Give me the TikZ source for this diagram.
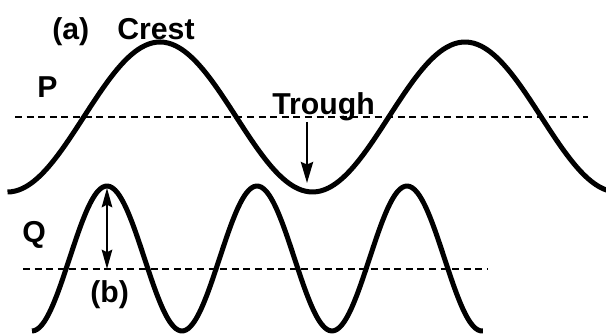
\documentclass[tikz,border=0pt]{standalone}
\usepackage{fontspec}
\setmainfont{Liberation Sans}
\usepackage{tikz}
\usetikzlibrary{arrows.meta,positioning}

\begin{document}
\begin{tikzpicture}[
    wave/.style={line width=2.85pt, line join=round},
    level/.style={line width=1.6pt, dash pattern=on 4pt off 2.6pt},
    pointer/.style={line width=1.1pt, -{Stealth[length=12pt, width=7pt, inset=1.5pt]}},
    span/.style={line width=1.1pt, {Stealth[length=11pt, width=6pt, inset=1.5pt]}-{Stealth[length=11pt, width=6pt, inset=1.5pt]}},
    every node/.style={font=\fontsize{17.2}{20}\selectfont\bfseries, inner sep=0pt}]
    % frame
    \clip (0,0) rectangle (12.12,6.68);

    % Wave P (long wavelength)
    \draw[wave] plot[domain=0.15:12.3, samples=160, smooth] (\x, {4.34 - 1.5*cos(360*(\x-0.15)/6.1)});
    \draw[level] (0.30,4.34) -- (11.76,4.34);

    % Wave Q (short wavelength)
    \draw[wave] plot[domain=0.64:9.66, samples=180, smooth] (\x, {1.51 + 1.45*cos(360*(\x-2.14)/3)});
    \draw[level] (0.46,1.30) -- (9.76,1.30);

    % Labels
    \node[anchor=base west] (labelA) at (1.04,5.88) {(a)};
    \node[anchor=base west] (crest) at (2.34,5.88) {Crest};
    \node[anchor=base west] (labelP) at (0.74,4.72) {P};
    \node[anchor=base west] (trough) at (5.44,4.38) {Trough};
    \node[anchor=base west] (labelQ) at (0.44,1.82) {Q};
    \node[anchor=base west] (labelB) at (1.80,0.62) {(b)};

    % Trough pointer
    \coordinate (troughTop) at (6.14,4.24);
    \coordinate (troughTip) at (6.14,3.02);
    \draw[pointer] (troughTop) -- (troughTip);

    % Amplitude of Q
    \coordinate (ampTop) at (2.14,2.92);
    \coordinate (ampBot) at (2.14,1.30);
    \draw[span] (ampTop) -- (ampBot);
\end{tikzpicture}
\end{document}
